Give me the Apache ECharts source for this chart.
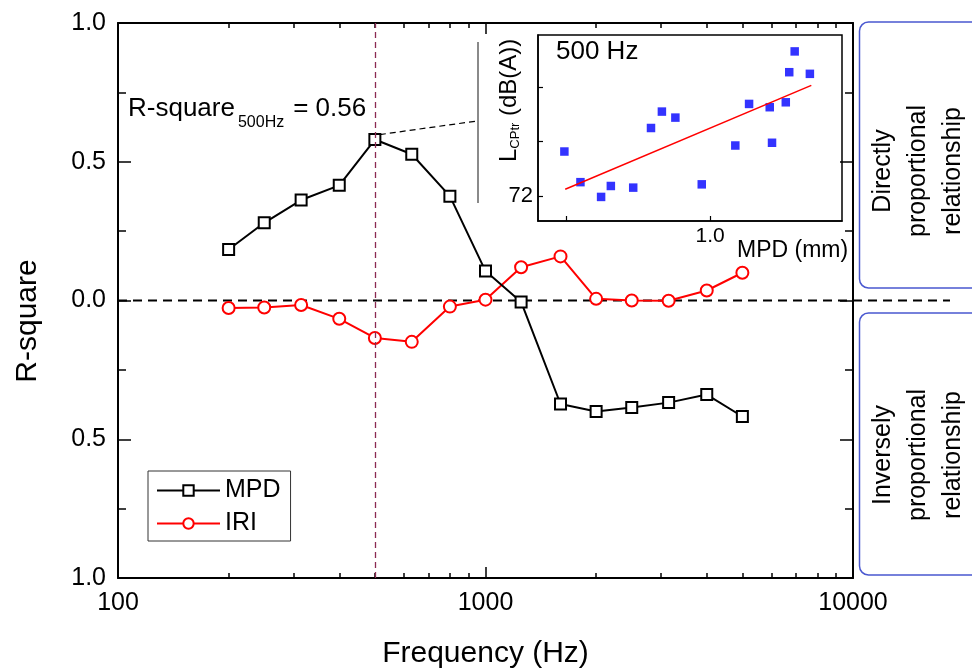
<!DOCTYPE html>
<html>
<head>
<meta charset="utf-8">
<script src="https://cdn.jsdelivr.net/npm/echarts@6/dist/echarts.min.js"></script>
<style>html,body{margin:0;padding:0;background:#fff}#c{width:972px;height:668px}</style>
</head>
<body>
<div id="c"></div>
<script>
// ---- data ----
const frequencies = [200, 250, 315, 400, 500, 630, 800, 1000, 1250, 1600, 2000, 2500, 3150, 4000, 5000];
const mpdRSquare = [0.184, 0.280, 0.362, 0.415, 0.580, 0.527, 0.376, 0.106, -0.005, -0.373, -0.400, -0.386, -0.368, -0.339, -0.418];
const iriRSquare = [-0.027, -0.025, -0.016, -0.066, -0.135, -0.149, -0.022, 0.003, 0.120, 0.159, 0.006, 0.000, -0.001, 0.036, 0.100];
const xRange = [100, 10000];
const yTicks = [-1, -0.5, 0, 0.5, 1];
const markedFrequency = 500;
// inset (500 Hz)
const insetMpd = [0.492, 0.548, 0.620, 0.654, 0.732, 0.794, 0.832, 0.879, 0.971, 1.088, 1.136, 1.208, 1.216, 1.264, 1.276, 1.295, 1.348];
const insetLcptr = [72.82, 72.26, 71.99, 72.19, 72.16, 73.25, 73.55, 73.44, 72.22, 72.93, 73.69, 73.63, 72.98, 73.72, 74.27, 74.65, 74.24];
const fitMpd = [0.495, 1.353];
const fitLcptr = [72.13, 74.03];
const insetXTicks = [0.5, 1.0];
const insetXLabels = [1.0];
const insetYTicks = [72, 73, 74];
const insetYLabels = [72];

// ---- chart ----
const FONT = '"Liberation Sans", Arial, sans-serif';
const chart = echarts.init(document.getElementById('c'));

function logAxis(pos, withLabel) {
  return {
    gridIndex: 0, type: 'log', logBase: 10, min: xRange[0], max: xRange[1], position: pos,
    axisLine: {show: true, onZero: false, lineStyle: {color: '#000', width: 2}},
    axisTick: {show: true, inside: true, length: 11, lineStyle: {color: '#000', width: 1.5}},
    minorTick: {show: true, splitNumber: 9, length: 5, lineStyle: {color: '#000', width: 1.5}},
    axisLabel: {show: withLabel, fontSize: 25, color: '#000', fontFamily: FONT, margin: 13, formatter: v => String(v)},
    splitLine: {show: false}
  };
}
function yMain(pos, withLabel) {
  return {
    gridIndex: 0, type: 'value', min: yTicks[0], max: yTicks[yTicks.length - 1], interval: 0.5, position: pos,
    axisLine: {show: true, onZero: false, lineStyle: {color: '#000', width: 2}},
    axisTick: {show: true, inside: true, length: 13, lineStyle: {color: '#000', width: 1.5}},
    minorTick: {show: true, splitNumber: 2, length: 8, lineStyle: {color: '#000', width: 1.5}},
    axisLabel: {show: withLabel, fontSize: 25, color: '#000', fontFamily: FONT, margin: 12, formatter: v => Math.abs(v).toFixed(1)},
    splitLine: {show: false}
  };
}

const xMain = logAxis('bottom', true);
xMain.name = 'Frequency (Hz)';
xMain.nameLocation = 'middle';
xMain.nameGap = 61;
xMain.nameTextStyle = {fontSize: 30, color: '#000'};

chart.setOption({
  animation: false,
  backgroundColor: '#fff',
  grid: [
    {left: 118, top: 23, width: 735, height: 555, outerBoundsMode: 'none'},
    {left: 538, top: 35, width: 304, height: 186, outerBoundsMode: 'none', show: true, backgroundColor: '#fff', borderColor: '#000', borderWidth: 1.5}
  ],
  legend: {
    data: ['MPD', 'IRI'], orient: 'vertical', left: 148, top: 471,
    padding: [7, 10, 5, 8], itemGap: 8, itemWidth: 63, itemHeight: 13,
    borderColor: '#333', borderWidth: 1, backgroundColor: '#fff', selectedMode: false,
    textStyle: {fontSize: 25, color: '#000'}
  },
  xAxis: [
    xMain,
    logAxis('top', false),
    {
      gridIndex: 1, type: 'value', min: 0.4, max: 1.46, position: 'bottom',
      axisLine: {show: true, onZero: false, lineStyle: {color: '#000', width: 1.5}},
      axisTick: {show: true, inside: true, length: 5, customValues: insetXTicks, lineStyle: {color: '#000', width: 1.2}},
      axisLabel: {show: true, customValues: insetXLabels, fontSize: 21, color: '#000', margin: 5, formatter: v => v.toFixed(1)},
      splitLine: {show: false}
    }
  ],
  yAxis: [
    yMain('left', true),
    yMain('right', false),
    {
      gridIndex: 1, type: 'value', min: 71.55, max: 74.95, position: 'left',
      axisLine: {show: true, onZero: false, lineStyle: {color: '#000', width: 1.5}},
      axisTick: {show: true, inside: true, length: 5, customValues: insetYTicks, lineStyle: {color: '#000', width: 1.2}},
      axisLabel: {show: true, customValues: insetYLabels, fontSize: 22, color: '#000', margin: 5},
      splitLine: {show: false}
    }
  ],
  series: [
    {
      name: 'MPD', type: 'line', xAxisIndex: 0, yAxisIndex: 0, z: 4,
      data: frequencies.map((f, i) => [f, mpdRSquare[i]]),
      symbol: 'emptyRect', symbolSize: 11,
      lineStyle: {color: '#000', width: 2}, itemStyle: {color: '#000', borderWidth: 1.5},
      markLine: {
        silent: true, symbol: 'none', label: {show: false},
        lineStyle: {type: [6, 4], color: '#8b2a52', width: 1.3},
        data: [{xAxis: markedFrequency}]
      }
    },
    {
      name: 'IRI', type: 'line', xAxisIndex: 0, yAxisIndex: 0, z: 3,
      data: frequencies.map((f, i) => [f, iriRSquare[i]]),
      symbol: 'emptyCircle', symbolSize: 12,
      lineStyle: {color: '#ff0000', width: 2}, itemStyle: {color: '#ff0000', borderWidth: 1.5}
    },
    {
      name: 'LCPtr', type: 'scatter', xAxisIndex: 2, yAxisIndex: 2,
      data: insetMpd.map((x, i) => [x, insetLcptr[i]]),
      symbol: 'rect', symbolSize: 8.5, itemStyle: {color: '#0000ff'},
      markLine: {
        silent: true, symbol: 'none', label: {show: false},
        lineStyle: {type: 'solid', color: '#ff0000', width: 1.5},
        data: [[{coord: [fitMpd[0], fitLcptr[0]]}, {coord: [fitMpd[1], fitLcptr[1]]}]]
      }
    }
  ]
});

// text measuring for sequential placement of subscript pieces
const mctx = document.createElement('canvas').getContext('2d');
function tw(text, size) { mctx.font = size + 'px ' + FONT; return mctx.measureText(text).width; }

const zeroPx = chart.convertToPixel({xAxisIndex: 0, yAxisIndex: 0}, [xRange[0], 0]);
const peakIdx = frequencies.indexOf(markedFrequency);
const peakPx = chart.convertToPixel({xAxisIndex: 0, yAxisIndex: 0}, [markedFrequency, mpdRSquare[peakIdx]]);
const boxStroke = '#4a58d0';
const TOP = 20;
function txt(text, x, y, size, rot) {
  const e = {type: 'text', x: x, y: y, z: TOP, silent: true,
    style: {text: text, fontSize: size, fontFamily: FONT, fill: '#000', align: 'left', verticalAlign: 'middle'}};
  if (rot) e.rotation = rot;
  return e;
}
const rs1 = tw('R-square', 26), rs2 = tw('500Hz', 16);
const yl1 = tw('L', 24), yl2 = tw('CPtr', 13);

chart.setOption({
  graphic: [
    {type: 'line', z: 1, silent: true, shape: {x1: zeroPx[0], y1: zeroPx[1], x2: 950, y2: zeroPx[1]},
     style: {stroke: '#000', lineWidth: 1.8, lineDash: [9, 6]}},
    {type: 'line', z: 1, silent: true, shape: {x1: peakPx[0] + 5, y1: peakPx[1] - 5, x2: 477, y2: 121},
     style: {stroke: '#000', lineWidth: 1.2, lineDash: [6, 4]}},
    {type: 'line', z: TOP, silent: true, shape: {x1: 478, y1: 42, x2: 478, y2: 203},
     style: {stroke: '#8a8a8a', lineWidth: 2}},
    txt('R-square', 128, 109, 26),
    txt('500Hz', 128 + rs1 + 3, 123, 16),
    txt('= 0.56', 128 + rs1 + 3 + rs2 + 9, 109, 26),
    txt('500 Hz', 556, 52, 26),
    txt('MPD (mm)', 737, 251, 23),
    txt('L', 509, 162, 24, Math.PI / 2),
    txt('CPtr', 515, 162 - yl1, 13, Math.PI / 2),
    txt(' (dB(A))', 509, 162 - yl1 - yl2, 24, Math.PI / 2),
    {type: 'text', x: 28, y: 321, z: TOP, rotation: Math.PI / 2, silent: true,
     style: {text: 'R-square', fontSize: 30, fontFamily: FONT, fill: '#000', align: 'center', verticalAlign: 'middle'}},
    {type: 'rect', z: TOP, silent: true, shape: {x: 859.5, y: 22, width: 140, height: 266, r: 9},
     style: {fill: 'none', stroke: boxStroke, lineWidth: 1.5}},
    {type: 'rect', z: TOP, silent: true, shape: {x: 859.5, y: 313, width: 140, height: 262, r: 9},
     style: {fill: 'none', stroke: boxStroke, lineWidth: 1.5}},
    {type: 'text', x: 918, y: 171, z: TOP, rotation: Math.PI / 2, silent: true,
     style: {text: 'Directly\nproportional\nrelationship', fontSize: 25, lineHeight: 35, fontFamily: FONT, fill: '#000', align: 'center', verticalAlign: 'middle'}},
    {type: 'text', x: 918, y: 455, z: TOP, rotation: Math.PI / 2, silent: true,
     style: {text: 'Inversely\nproportional\nrelationship', fontSize: 25, lineHeight: 35, fontFamily: FONT, fill: '#000', align: 'center', verticalAlign: 'middle'}}
  ]
});
</script>
</body>
</html>
